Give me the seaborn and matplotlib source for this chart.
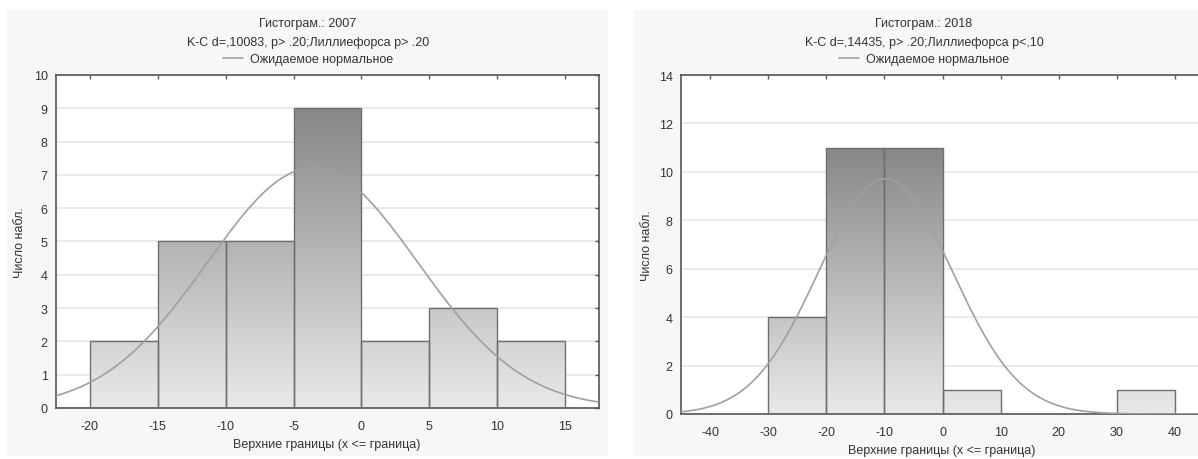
import numpy as np
import pandas as pd
import matplotlib
matplotlib.use("Agg")
import matplotlib.pyplot as plt
import seaborn as sns
from matplotlib.colors import LinearSegmentedColormap
from matplotlib.patches import Rectangle
from matplotlib.lines import Line2D

# ---------------- data ----------------
titles = ["Гистограм.: 2007", "Гистограм.: 2018"]
stats_lines = ["K-C d=,10083, p> .20;Лиллиефорса p> .20",
               "K-C d=,14435, p> .20;Лиллиефорса p<,10"]
legend_label = "Ожидаемое нормальное"
xlabel = "Верхние границы (x <= граница)"
ylabel = "Число набл."

edges_2007 = [-20, -15, -10, -5, 0, 5, 10, 15]
counts_2007 = [2, 5, 5, 9, 2, 3, 2]
edges_2018 = [-30, -20, -10, 0, 10, 20, 30, 40]
counts_2018 = [4, 11, 11, 1, 0, 0, 1]

# fitted normal parameters
mean_2007, sd_2007 = -3.6, 7.75
mean_2018, sd_2018 = -9.8, 11.5

xticks_2007 = [-20, -15, -10, -5, 0, 5, 10, 15]
xticks_2018 = [-40, -30, -20, -10, 0, 10, 20, 30, 40]
yticks_2007 = [0, 1, 2, 3, 4, 5, 6, 7, 8, 9, 10]
yticks_2018 = [0, 2, 4, 6, 8, 10, 12, 14]
xlim_2007 = (-22.5, 17.5)
xlim_2018 = (-45, 45)

# ---------------- style ----------------
sns.set_theme(style="white")
plt.rcParams['font.family'] = ['Liberation Sans', 'DejaVu Sans']
plt.rcParams['axes.unicode_minus'] = False
FS = 9
TXT = "#333333"

W, H = 1198, 460
fig = plt.figure(figsize=(W / 100, H / 100), dpi=100)
fig.patch.set_facecolor("white")

# panel backgrounds
for (x0, x1) in [(7, 608), (634, 1210)]:
    fig.patches.append(Rectangle((x0 / W, 1 - 457 / H), (x1 - x0) / W, (457 - 11) / H,
                                 transform=fig.transFigure, facecolor="#f7f7f7",
                                 edgecolor="none", zorder=-5))

grad = LinearSegmentedColormap.from_list("g", ["#e9e9e9", "#878787"])

panels = [
    dict(edges=edges_2007, counts=counts_2007, mean=mean_2007, sd=sd_2007,
         xticks=xticks_2007, yticks=yticks_2007, xlim=xlim_2007,
         rect=(56, 599, 76, 409), cx=308, xlx=327, xly=445, ylx=20,
         title=titles[0], stats=stats_lines[0]),
    dict(edges=edges_2018, counts=counts_2018, mean=mean_2018, sd=sd_2018,
         xticks=xticks_2018, yticks=yticks_2018, xlim=xlim_2018,
         rect=(681, 1204, 76, 415), cx=924, xlx=942, xly=451, ylx=647,
         title=titles[1], stats=stats_lines[1]),
]

for p in panels:
    l, r, t, b = p["rect"]
    ax = fig.add_axes([l / W, 1 - b / H, (r - l) / W, (b - t) / H])
    ax.set_zorder(2)
    ax.set_facecolor("white")
    edges = list(p["edges"])
    centers = [(edges[i] + edges[i + 1]) / 2 for i in range(len(edges) - 1)]
    df = pd.DataFrame({"x": centers, "n": p["counts"]})
    sns.histplot(data=df, x="x", weights="n", bins=edges, ax=ax,
                 stat="count", color="#cccccc", edgecolor="#6e6e6e",
                 linewidth=1.0, alpha=1.0, zorder=3)

    ymax_bar = max(p["counts"])
    ylo, yhi = p["yticks"][0], p["yticks"][-1]
    gradimg = np.linspace(0, 1, 256).reshape(-1, 1)
    for patch in list(ax.patches):
        h = patch.get_height()
        if h <= 0:
            continue
        patch.set_facecolor("none")
        x0 = patch.get_x()
        w = patch.get_width()
        im = ax.imshow(gradimg, cmap=grad, origin="lower", aspect="auto",
                       extent=[x0, x0 + w, 0, ymax_bar], vmin=0, vmax=1,
                       zorder=2, interpolation="bilinear")
        im.set_clip_path(patch)

    # expected normal curve
    n = sum(p["counts"])
    bw = edges[1] - edges[0]
    xs = np.linspace(p["xlim"][0], p["xlim"][1], 400)
    ys = n * bw * np.exp(-0.5 * ((xs - p["mean"]) / p["sd"]) ** 2) / (p["sd"] * np.sqrt(2 * np.pi))
    sns.lineplot(x=xs, y=ys, ax=ax, color="#a0a0a0", linewidth=1.2, zorder=4, legend=False)

    ax.set_xlim(*p["xlim"])
    ax.set_ylim(ylo, yhi)
    ax.set_xticks(p["xticks"])
    ax.set_yticks(p["yticks"])
    ax.yaxis.grid(True, color="#e6e6e6", linewidth=1.2, zorder=0)
    ax.xaxis.grid(False)
    ax.set_axisbelow(True)
    ax.tick_params(axis="both", direction="in", length=3, width=1, colors="#555555",
                   labelcolor=TXT, labelsize=FS, top=True, right=True)
    ax.tick_params(axis="x", pad=9)
    ax.tick_params(axis="y", pad=6)
    for s in ax.spines.values():
        s.set_color("#555555")
        s.set_linewidth(1.2)
    ax.set_xlabel("")
    ax.set_ylabel("")

    # texts
    fig.text(p["cx"] / W, 1 - 24 / H, p["title"], ha="center", va="center", fontsize=FS, color=TXT)
    fig.text(p["cx"] / W, 1 - 43 / H, p["stats"], ha="center", va="center", fontsize=FS, color=TXT)
    handle = Line2D([], [], color="#a0a0a0", linewidth=1.2)
    fig.legend([handle], [legend_label], loc="center", bbox_to_anchor=(p["cx"] / W, 1 - 60 / H),
               frameon=False, fontsize=FS, handlelength=1.6, handletextpad=0.5,
               labelcolor=TXT, borderpad=0)
    fig.text(p["xlx"] / W, 1 - p["xly"] / H, xlabel, ha="center", va="center", fontsize=FS, color=TXT)
    fig.text(p["ylx"] / W, 1 - ((t + b) / 2) / H, ylabel, rotation=90,
             ha="center", va="center", fontsize=FS, color=TXT)

fig.savefig("out.png", dpi=100)
